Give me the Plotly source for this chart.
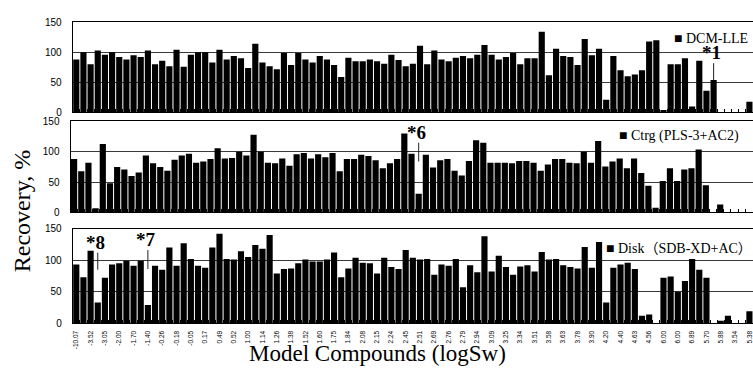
import plotly.graph_objects as go

# ---- data ----
tick_labels = ["-10.07", "-3.52", "-3.05", "-2.00", "-1.70", "-1.40", "-0.26", "-0.18", "-0.05", "0.17",
               "0.49", "0.52", "1.00", "1.14", "1.26", "1.38", "1.52", "1.60", "1.75", "1.84",
               "2.08", "2.15", "2.24", "2.45", "2.51", "2.69", "2.76", "2.79", "2.94", "3.09",
               "3.25", "3.34", "3.51", "3.58", "3.63", "3.78", "3.90", "4.20", "4.40", "4.63",
               "4.56", "6.00", "6.00", "6.89", "5.70", "5.88", "3.54", "5.38"]

dcm_lle = [88, 100, 80, 103, 96, 100, 92, 88, 95, 92, 103, 80, 86, 77, 104, 76, 96, 100, 100, 83,
           104, 88, 94, 90, 74,
           114, 83, 77, 72, 99, 79, 99, 88, 83, 94, 88, 79, 59, 91, 85, 85, 88, 85, 81, 96,
           87, 77, 81, 111, 80, 103, 88, 85, 91, 94, 90, 96, 112, 96, 88,
           92, 99, 80, 90, 90, 134, 62, 106, 94, 92, 79, 122, 95, 106, 21, 94, 70, 60, 63, 70,
           118, 120, 4, 80, 80, 90, 10, 86, 36, 54, 0, 0, 0, 0, 18]

ctrg = [88, 68, 82, 7, 113, 48, 75, 71, 60, 66, 94, 81, 75, 69, 87, 94, 97, 82, 84, 88,
        106, 89, 90, 100, 94, 128,
        100, 82, 81, 89, 77, 96, 98, 89, 96, 91, 98, 68, 88, 88, 95, 93, 86, 73, 81, 88,
        130, 97, 31, 95, 74, 86, 88, 69, 61, 85, 119, 115, 82, 82,
        82, 81, 85, 85, 82, 69, 79, 88, 88, 82, 81, 100, 82, 118, 76, 84, 89, 73, 89, 65,
        44, 8, 52, 73, 52, 71, 73, 104, 45, 0, 13, 0, 0, 0, 0]

disk = [93, 73, 115, 33, 72, 93, 95, 99, 91, 99, 29, 91, 85, 120, 91, 127, 102, 91, 88, 120,
        142, 102, 101, 114, 105, 124,
        118, 140, 79, 86, 87, 95, 101, 98, 98, 101, 112, 73, 87, 104, 96, 95, 79, 104, 89, 86,
        116, 104, 101, 102, 77, 93, 91, 102, 57, 92, 81, 138, 82, 107,
        89, 77, 90, 92, 82, 113, 101, 102, 92, 89, 87, 121, 88, 129, 33, 88, 93, 96, 86, 12,
        14, 0, 72, 74, 50, 67, 102, 85, 72, 0, 4, 12, 0, 0, 19]

series_names = ["DCM-LLE", "Ctrg (PLS-3+AC2)", "Disk（SDB-XD+AC）"]

# notes: (panel, bar index, label)
notes = [(1, 89, "*1"), (2, 48, "*6"), (3, 3, "*8"), (3, 10, "*7")]

# ---- layout geometry (pixels) ----
W, H = 753, 376
SERIF = "Times New Roman, Liberation Serif, Noto Sans CJK SC, serif"
SANS = "Arial, Liberation Sans, sans-serif"

def fx(p):
    return p / W

def fy(p):
    return 1 - p / H

panels = [
    dict(vals=dcm_lle, x0=72.7, x1=753.0, top=16.7, bot=110.0, leg=(672, 33.8)),
    dict(vals=ctrg, x0=70.5, x1=752.5, top=119.3, bot=213.3, leg=(616.5, 134.5)),
    dict(vals=disk, x0=72.7, x1=753.0, top=230.0, bot=327.7, leg=(604, 250.0)),
]
# annotation line spans (style)
note_style = {"*1": (None, 82), "*6": (84, 115), "*8": (85, 112), "*7": (86, 116)}

n = len(dcm_lle)
idx = list(range(n))

fig = go.Figure()
layout = dict(
    width=W, height=H, autosize=False,
    margin=dict(l=0, r=0, t=0, b=0),
    paper_bgcolor="white", plot_bgcolor="white",
    bargap=0.14, showlegend=False,
    annotations=[], shapes=[],
)

for i, p in enumerate(panels, start=1):
    sx = "" if i == 1 else str(i)
    fig.add_trace(go.Bar(
        x=idx, y=p["vals"], name=series_names[i - 1],
        marker=dict(color="black", line=dict(width=0)),
        xaxis="x" + sx, yaxis="y" + sx, showlegend=False,
    ))
    layout["xaxis" + sx] = dict(
        domain=[fx(p["x0"]), fx(p["x1"])], anchor="y" + sx,
        range=[-0.5, n - 0.5], showline=True, mirror=True,
        linecolor="black", linewidth=1, showgrid=False, zeroline=False,
        tickmode="array", tickvals=idx[::2], ticktext=tick_labels,
        showticklabels=(i == 3), ticks="", tickangle=-90,
        tickfont=dict(family=SANS, size=6.5, color="black"),
        ticklabelstandoff=4,
        minor=dict(ticks="inside", ticklen=3, tickcolor="black", tickwidth=1,
                   tickmode="array", tickvals=[k + 0.5 for k in idx[:-1]]),
        fixedrange=True,
    )
    layout["yaxis" + sx] = dict(
        domain=[fy(p["bot"]), fy(p["top"])], anchor="x" + sx,
        range=[0, 150], tickmode="array", tickvals=[0, 50, 100, 150],
        showgrid=True, gridcolor="#3a3a3a", gridwidth=1,
        showline=True, linecolor="black", linewidth=1, zeroline=False,
        ticks="", tickfont=dict(family=SANS, size=10, color="black"),
        ticklabelstandoff=8, fixedrange=True,
    )
    lx, ly = p["leg"]
    layout["annotations"].append(dict(
        text="■ " + series_names[i - 1], xref="paper", yref="paper",
        x=fx(lx), y=fy(ly), xanchor="left", yanchor="middle", showarrow=False,
        font=dict(family=SERIF, size=14, color="black"),
    ))

for panel, k, label in notes:
    sx = "" if panel == 1 else str(panel)
    vals = panels[panel - 1]["vals"]
    lo, hi = note_style[label]
    if lo is None:
        lo = vals[k]
    layout["shapes"].append(dict(
        type="line", xref="x" + sx, yref="y" + sx, x0=k, x1=k, y0=lo, y1=hi,
        line=dict(color="#222", width=1),
    ))
    layout["annotations"].append(dict(
        text="<b>" + label + "</b>", xref="x" + sx, yref="y" + sx,
        x=k, y=hi, xanchor="center", yanchor="bottom", xshift=-2, yshift=-2,
        showarrow=False, font=dict(family=SERIF, size=19, color="black"),
    ))

layout["annotations"].append(dict(
    text="Recovery, %", xref="paper", yref="paper", x=fx(22), y=fy(212),
    xanchor="center", yanchor="middle", textangle=-90, showarrow=False,
    font=dict(family=SERIF, size=24, color="black"),
))
layout["annotations"].append(dict(
    text="Model Compounds (logSw)", xref="paper", yref="paper", x=fx(377.5), y=fy(359),
    xanchor="center", yanchor="middle", showarrow=False,
    font=dict(family=SERIF, size=23, color="black"),
))

fig.update_layout(**layout)
fig.write_html("out.html", config={"displayModeBar": False, "staticPlot": True},
               post_script="document.body.style.margin='0';document.body.style.overflow='hidden';")
